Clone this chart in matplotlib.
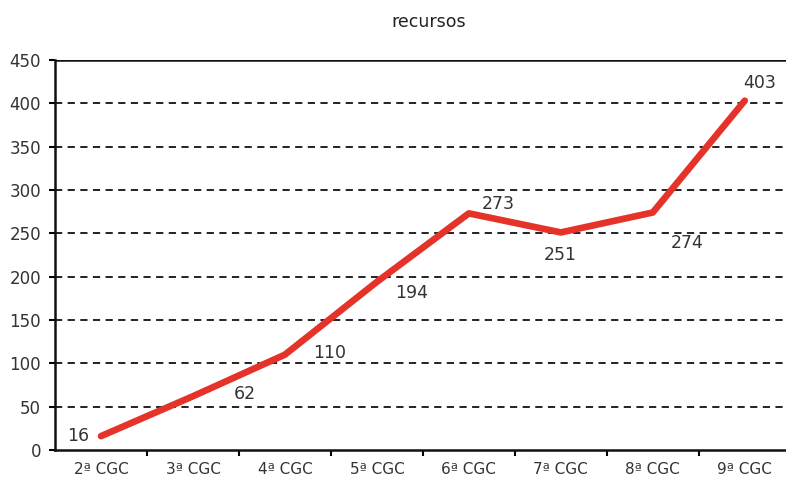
import numpy as np
import matplotlib.pyplot as plt

# --- Donnees ---
categorias = ["2ª CGC", "3ª CGC", "4ª CGC", "5ª CGC",
              "6ª CGC", "7ª CGC", "8ª CGC", "9ª CGC"]
recursos = [16, 62, 110, 194, 273, 251, 274, 403]
# decalage des etiquettes (px) autour de chaque point
offsets = [(-23, 0), (52, 2), (45, 2), (35, -11),
           (29, 9), (-1, -23), (34, -31), (15, 18)]

fig = plt.figure(figsize=(7.86, 4.78), dpi=100)
ax = fig.add_axes([0.07, 0.0586, 0.936, 0.816])

x = np.arange(len(categorias))
ax.plot(x, recursos, color="#e53329", lw=4.8, solid_capstyle="round",
        solid_joinstyle="round", zorder=3)

for xi, v, (dx, dy) in zip(x, recursos, offsets):
    ax.annotate(str(v), (xi, v), xytext=(dx, dy), textcoords="offset pixels",
                ha="center", va="center", fontsize=12.5, color="#333333")

ax.set_xlim(-0.5, len(categorias) - 0.5)
ax.set_ylim(0, 450)
ax.set_yticks(np.arange(0, 451, 50))
for yv in range(50, 451, 50):
    ax.axhline(yv, color="#111111", lw=1.8 if yv == 450 else 1.3,
               ls="-" if yv == 450 else (0, (4, 3)), zorder=1)

ax.set_xticks(x)
ax.set_xticklabels(categorias)
ax.set_xticks(np.arange(0.5, len(categorias) - 0.5, 1), minor=True)
ax.tick_params(axis="x", which="major", length=0, pad=9, labelsize=11,
               labelcolor="#333333")
ax.tick_params(axis="x", which="minor", length=4, width=1.5, direction="out")
ax.tick_params(axis="y", length=4, width=1.5, labelsize=12,
               labelcolor="#333333", pad=6)

for s in ["top", "right"]:
    ax.spines[s].set_visible(False)
for s in ["left", "bottom"]:
    ax.spines[s].set_linewidth(1.8)
    ax.spines[s].set_color("#111111")

fig.text(0.545, 0.955, "recursos", ha="center", va="center",
         fontsize=12.5, color="#222222")

fig.savefig("out.png", dpi=100)
